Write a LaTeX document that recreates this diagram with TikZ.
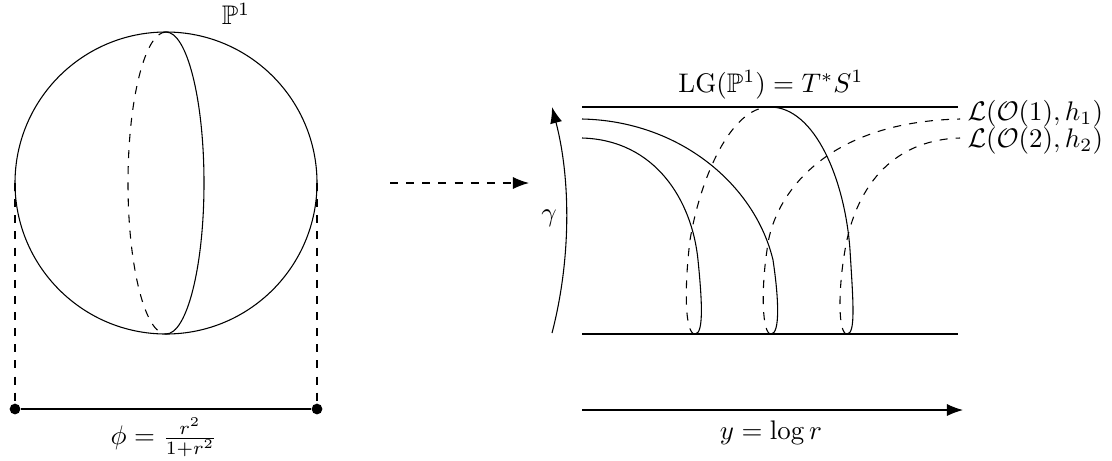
\documentclass[tikz,border=0pt]{standalone}
\usepackage{amsmath,amssymb}
\usetikzlibrary{arrows.meta}
\begin{document}
\begin{tikzpicture}[x=0.372pt,y=-0.372pt,
  every node/.style={inner sep=1pt},
  ln/.style={line width=0.4pt},
  dsh/.style={ln,dashed},
  arr/.style={ln,-{Latex[length=6pt,width=4.5pt]}},
  dot/.style={circle,fill,inner sep=0pt,minimum size=4pt}]
\useasboundingbox (0,0) rectangle (1112,460);
% sphere
\draw[ln] (166,183) circle [radius=151];
\draw[ln] (166,32) arc [start angle=-90,end angle=90,x radius=38,y radius=151];
\draw[dsh] (166,32) arc [start angle=-90,end angle=-270,x radius=38,y radius=151];
\node (p1) at (236,14) {$\mathbb{P}^1$};
% projection
\coordinate (cl) at (15,183);
\coordinate (cr) at (317,183);
\node[dot] (dl) at (15,409) {};
\node[dot] (dr) at (317,409) {};
\draw[dsh] (cl) -- (dl);
\draw[dsh] (cr) -- (dr);
\draw[ln] (dl) -- (dr);
\node (phi) at (164,437) {$\phi=\frac{r^2}{1+r^2}$};
% dashed map arrow
\coordinate (ma) at (390,183);
\coordinate (mb) at (529,183);
\draw[arr,dashed] (ma) -- (mb);
% right panel
\coordinate (tl) at (582,107);
\coordinate (tr) at (958,107);
\coordinate (bl) at (582,334);
\coordinate (br) at (958,334);
\draw[ln] (tl) -- (tr);
\draw[ln] (bl) -- (br);
\node (lg) at (771,85) {$\mathrm{LG}(\mathbb{P}^1)=T^*S^1$};
% gamma
\coordinate (g0) at (552,333);
\coordinate (g1) at (552,107);
\draw[arr] (g0) .. controls (571,260) and (571,180) .. (g1);
\node (gam) at (549,218) {$\gamma$};
% y axis arrow
\coordinate (y0) at (582,410);
\coordinate (y1) at (963,410);
\draw[arr] (y0) -- (y1);
\node (ylab) at (771,433) {$y=\log r$};
% Lagrangian O(1)
\draw[ln] (582,119) .. controls (680,121) and (755,185) .. (773,260)
  .. controls (779,300) and (780,334) .. (771,334);
\draw[dsh] (771,334) .. controls (762,334) and (761,290) .. (767,250)
  .. controls (772,200) and (820,122) .. (960,119);
% Lagrangian O(2)
\draw[ln] (582,138) .. controls (655,140) and (692,200) .. (698,260)
  .. controls (702,300) and (704,334) .. (695,334);
\draw[dsh] (695,334) .. controls (685,334) and (684,290) .. (690,240)
  .. controls (700,180) and (730,107) .. (770,107);
\draw[ln] (770,107) .. controls (815,107) and (845,180) .. (850,250)
  .. controls (853,300) and (856,334) .. (847,334);
\draw[dsh] (847,334) .. controls (838,334) and (838,290) .. (845,250)
  .. controls (855,190) and (890,140) .. (960,138);
\node[anchor=west,inner sep=0pt] (l1) at (967,114) {$\mathcal{L}(\mathcal{O}(1),h_1)$};
\node[anchor=west,inner sep=0pt] (l2) at (967,141) {$\mathcal{L}(\mathcal{O}(2),h_2)$};
\end{tikzpicture}
\end{document}
